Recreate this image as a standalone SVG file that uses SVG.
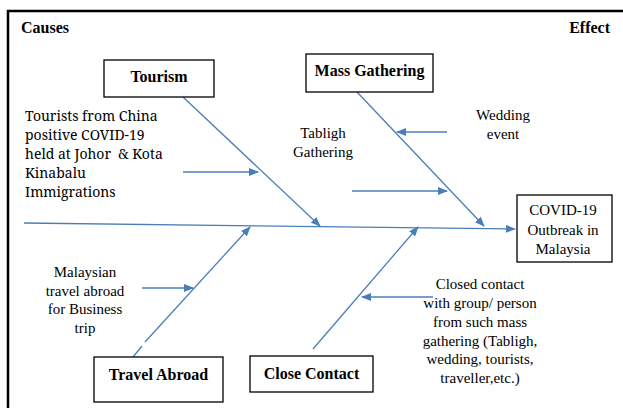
<svg xmlns="http://www.w3.org/2000/svg" width="623" height="408" viewBox="0 0 623 408">
<style>
.box{fill:#fff;stroke:#000;stroke-width:1.3}
.bt{font-family:'Liberation Serif','Times New Roman',serif;font-weight:bold;font-size:16px;fill:#000}
.t{font-family:'Liberation Serif','Times New Roman',serif;font-size:15px;fill:#000}
.c{font-family:'Noto Serif','DejaVu Serif',serif;font-size:14px;fill:#000}
.ln{stroke:#4a7ebb;stroke-width:1.3;fill:none}
</style>
<defs>
<marker id="ah" markerWidth="10" markerHeight="8" refX="9" refY="4" orient="auto" markerUnits="userSpaceOnUse">
<path d="M0,0 L10,4 L0,8 Z" fill="#4a7ebb"/>
</marker>
</defs>
<rect x="0" y="0" width="623" height="408" fill="#fff"/>
<rect x="8" y="11" width="640" height="420" fill="none" stroke="#000" stroke-width="2.5"/>

<g id="connectors">
<line class="ln" x1="24" y1="223" x2="515" y2="229" marker-end="url(#ah)"/>
<line class="ln" x1="183" y1="97" x2="320" y2="226" marker-end="url(#ah)"/>
<line class="ln" x1="357" y1="92" x2="484" y2="226" marker-end="url(#ah)"/>
<line class="ln" x1="133" y1="357" x2="142" y2="346"/>
<line class="ln" x1="145" y1="342" x2="250" y2="227" marker-end="url(#ah)"/>
<line class="ln" x1="313" y1="349" x2="418" y2="227" marker-end="url(#ah)"/>
<line class="ln" x1="183" y1="172" x2="258" y2="172" marker-end="url(#ah)"/>
<line class="ln" x1="447" y1="132" x2="397" y2="132" marker-end="url(#ah)"/>
<line class="ln" x1="352" y1="191" x2="447" y2="191" marker-end="url(#ah)"/>
<line class="ln" x1="142" y1="288" x2="193" y2="288" marker-end="url(#ah)"/>
<line class="ln" x1="433" y1="297" x2="362" y2="297" marker-end="url(#ah)"/>
</g>

<g id="headings">
<text class="bt" x="21" y="33">Causes</text>
<text class="bt" x="610" y="33" text-anchor="end">Effect</text>
</g>
<g id="tourism">
<rect class="box" x="104" y="60" width="110" height="37"/>
<text class="bt" x="159" y="82" text-anchor="middle">Tourism</text>
</g>
<g id="mass-gathering">
<rect class="box" x="306" y="54" width="127" height="38"/>
<text class="bt" x="369.5" y="76" text-anchor="middle">Mass Gathering</text>
</g>
<g id="travel-abroad">
<rect class="box" x="94" y="357" width="129" height="45"/>
<text class="bt" x="158.5" y="380" text-anchor="middle">Travel Abroad</text>
</g>
<g id="close-contact">
<rect class="box" x="250" y="356" width="123" height="36"/>
<text class="bt" x="311.5" y="379" text-anchor="middle">Close Contact</text>
</g>
<g id="effect">
<rect class="box" x="517" y="195" width="95" height="67"/>
<text class="t" x="563" y="215" text-anchor="middle">COVID-19</text>
<text class="t" x="563" y="235" text-anchor="middle">Outbreak in</text>
<text class="t" x="563" y="254" text-anchor="middle">Malaysia</text>
</g>
<g id="tourists-label">
<text class="c" x="25" y="121">Tourists from China</text>
<text class="c" x="25" y="140">positive COVID-19</text>
<text class="c" x="25" y="159">held at Johor&#160; &amp; Kota</text>
<text class="c" x="25" y="178">Kinabalu</text>
<text class="c" x="25" y="197">Immigrations</text>
</g>
<g id="tabligh-label">
<text class="t" x="323" y="138" text-anchor="middle">Tabligh</text>
<text class="t" x="323" y="157" text-anchor="middle">Gathering</text>
</g>
<g id="wedding-label">
<text class="t" x="503" y="120" text-anchor="middle">Wedding</text>
<text class="t" x="503" y="139" text-anchor="middle">event</text>
</g>
<g id="malaysian-label">
<text class="t" x="85" y="277" text-anchor="middle">Malaysian</text>
<text class="t" x="85" y="296" text-anchor="middle">travel abroad</text>
<text class="t" x="85" y="314" text-anchor="middle">for Business</text>
<text class="t" x="85" y="333" text-anchor="middle">trip</text>
</g>
<g id="closed-contact-label">
<text class="t" x="480" y="289" text-anchor="middle">Closed contact</text>
<text class="t" x="480" y="308" text-anchor="middle">with group/ person</text>
<text class="t" x="480" y="327" text-anchor="middle">from such mass</text>
<text class="t" x="480" y="346" text-anchor="middle">gathering (Tabligh,</text>
<text class="t" x="480" y="364" text-anchor="middle">wedding, tourists,</text>
<text class="t" x="480" y="383" text-anchor="middle">traveller,etc.)</text>
</g>
</svg>
